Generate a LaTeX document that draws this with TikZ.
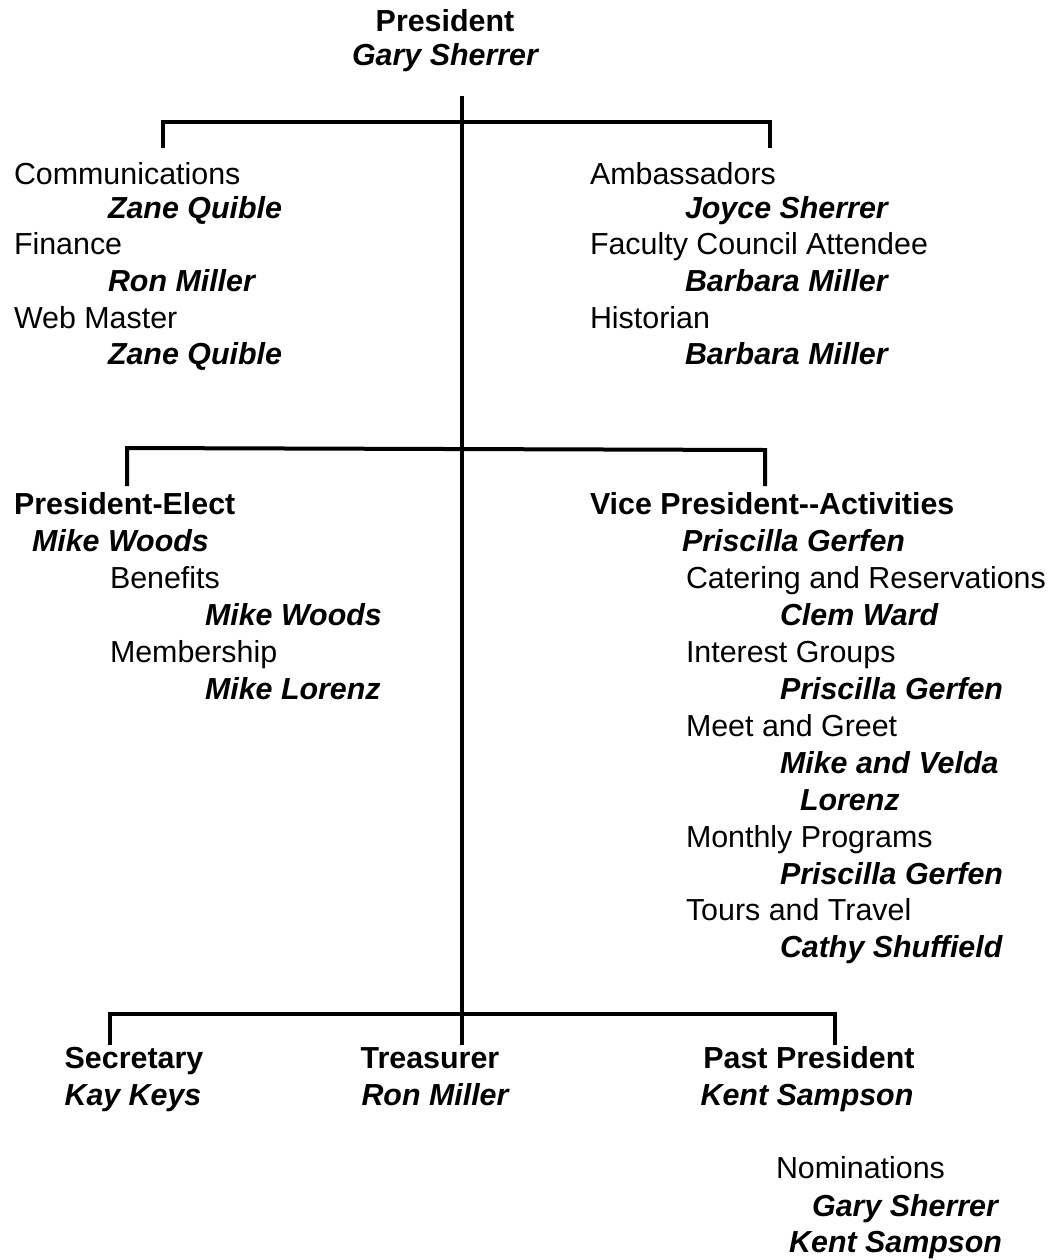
\documentclass[tikz,border=0pt]{standalone}
\usepackage{fontspec}
\setmainfont{Liberation Sans}
\begin{document}
\begin{tikzpicture}[x=0.75pt,y=-0.75pt,
  every node/.style={inner sep=0pt,outer sep=0pt,font=\fontsize{22.8}{27}\selectfont},
  lbl/.style={anchor=base west},
  nm/.style={anchor=base west,font=\fontsize{22.8}{27}\selectfont\bfseries\itshape},
  ttl/.style={anchor=base west,font=\fontsize{22.8}{27}\selectfont\bfseries},
  cnm/.style={anchor=base,font=\fontsize{22.8}{27}\selectfont\bfseries\itshape},
  cttl/.style={anchor=base,font=\fontsize{22.8}{27}\selectfont\bfseries},
  rnm/.style={anchor=base east,font=\fontsize{22.8}{27}\selectfont\bfseries\itshape},
  wire/.style={line width=3pt,line cap=rect}]
\useasboundingbox (0,0) rectangle (1052,1260);
% President
\node[cttl] (pres) at (445,31) {President};
\node[cnm] (presn) at (445,65) {Gary Sherrer};
% coordinates of the tree
\coordinate (top) at (462,98);
\coordinate (b1l) at (163,122);
\coordinate (b1r) at (770,122);
\coordinate (d1l) at (163,146);
\coordinate (d1r) at (770,146);
\coordinate (b2l) at (127,448);
\coordinate (b2r) at (765,450);
\coordinate (d2l) at (127,484);
\coordinate (d2r) at (765,484);
\coordinate (b3l) at (110,1014);
\coordinate (b3r) at (835,1014);
\coordinate (d3l) at (110,1043);
\coordinate (d3m) at (462,1043);
\coordinate (d3r) at (835,1043);
\draw[wire] (top) -- (d3m);
\draw[wire] (d1l) -- (b1l) -- (b1r) -- (d1r);
\draw[wire] (d2l) -- (b2l) -- (b2r) -- (d2r);
\draw[wire] (d3l) -- (b3l) -- (b3r) -- (d3r);
% left upper group
\node[lbl] (comm) at (14,184) {Communications};
\node[nm] (commn) at (108,218) {Zane Quible};
\node[lbl] (fin) at (14,254) {Finance};
\node[nm] (finn) at (108,291) {Ron Miller};
\node[lbl] (web) at (14,328) {Web Master};
\node[nm] (webn) at (108,364) {Zane Quible};
% right upper group
\node[lbl] (amb) at (590,184) {Ambassadors};
\node[nm] (ambn) at (685,218) {Joyce Sherrer};
\node[lbl] (fca) at (590,254) {Faculty Council Attendee};
\node[nm] (fcan) at (685,291) {Barbara Miller};
\node[lbl] (hist) at (590,328) {Historian};
\node[nm] (histn) at (685,364) {Barbara Miller};
% President-Elect
\node[ttl] (pe) at (14,514) {President-Elect};
\node[nm] (pen) at (32,551) {Mike Woods};
\node[lbl] (ben) at (110,588) {Benefits};
\node[nm] (benn) at (205,625) {Mike Woods};
\node[lbl] (mem) at (110,662) {Membership};
\node[nm] (memn) at (205,699) {Mike Lorenz};
% VP Activities
\node[ttl] (vp) at (590,514) {Vice President-{}-Activities};
\node[nm] (vpn) at (682,551) {Priscilla Gerfen};
\node[lbl] (cat) at (686,588) {Catering and Reservations};
\node[nm] (catn) at (780,625) {Clem Ward};
\node[lbl] (ig) at (686,662) {Interest Groups};
\node[nm] (ign) at (780,699) {Priscilla Gerfen};
\node[lbl] (mg) at (686,736) {Meet and Greet};
\node[nm] (mgn) at (780,773) {Mike and Velda};
\node[nm] (mgn2) at (800,810) {Lorenz};
\node[lbl] (mp) at (686,847) {Monthly Programs};
\node[nm] (mpn) at (780,884) {Priscilla Gerfen};
\node[lbl] (tt) at (686,920) {Tours and Travel};
\node[nm] (ttn) at (780,957) {Cathy Shuffield};
% bottom row
\node[cttl] (sec) at (134,1068) {Secretary};
\node[cnm] (secn) at (133,1105) {Kay Keys};
\node[cttl] (tre) at (430,1068) {Treasurer};
\node[cnm] (tren) at (435,1105) {Ron Miller};
\node[cttl] (pp) at (809,1068) {Past President};
\node[cnm] (ppn) at (807,1105) {Kent Sampson};
% nominations
\node[lbl] (nom) at (776,1178) {Nominations};
\node[rnm] (nomn1) at (998,1216) {Gary Sherrer};
\node[rnm] (nomn2) at (1002,1252) {Kent Sampson};
\end{tikzpicture}
\end{document}
